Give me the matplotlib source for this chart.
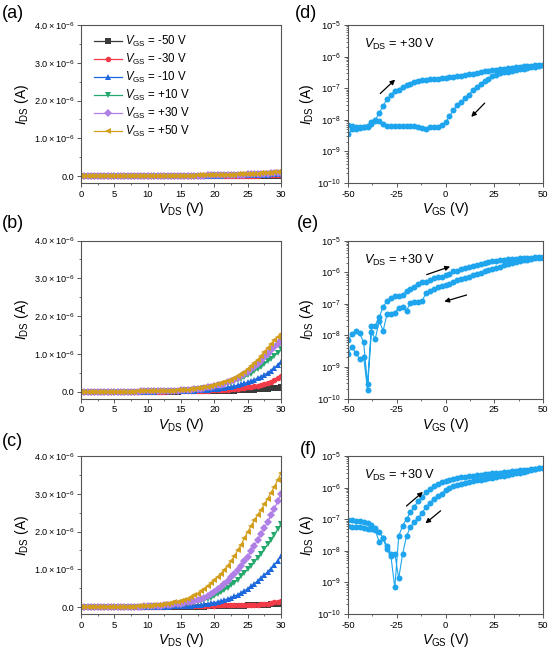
import numpy as np
import matplotlib
matplotlib.use("Agg")
import matplotlib.pyplot as plt
from matplotlib.ticker import FuncFormatter, MultipleLocator, LogLocator, NullFormatter

plt.rcParams['font.family'] = ['Liberation Sans', 'DejaVu Sans']
plt.rcParams['mathtext.fontset'] = 'custom'
plt.rcParams['mathtext.rm'] = 'Liberation Sans'
plt.rcParams['mathtext.it'] = 'Liberation Sans:italic'
plt.rcParams['axes.unicode_minus'] = False

# ---- output curves, I_DS in uA, V_DS swept 0..30 V in 0.5 V steps ----
vds = np.arange(0, 30.5, 0.5)
vgs_labels = ['-50 V', '-30 V', '-10 V', '+10 V', '+30 V', '+50 V']

# (a)
a_m50 = [0, 0, 0, 0, 0, 0, 0, 0, 0, 0, 0, 0, 0, 0, 0.001, 0.001, 0.001, 0.001, 0.001, 0.001, 0.001,
         0.001, 0.001, 0.002, 0.002, 0.002, 0.002, 0.002, 0.002, 0.003, 0.003, 0.003, 0.003, 0.003, 0.004, 0.004,
         0.004, 0.004, 0.005, 0.005, 0.005, 0.005, 0.006, 0.006, 0.006, 0.007, 0.007, 0.007, 0.008, 0.008, 0.008,
         0.009, 0.009, 0.009, 0.01, 0.01, 0.01, 0.011, 0.011, 0.012, 0.012]
a_m30 = [0, 0, 0, 0, 0, 0, 0, 0, 0.001, 0.001, 0.001, 0.001, 0.001, 0.001, 0.002, 0.002, 0.002, 0.002, 0.002, 0.003, 0.003,
         0.003, 0.003, 0.004, 0.004, 0.004, 0.004, 0.005, 0.005, 0.005, 0.006, 0.006, 0.006, 0.007, 0.007, 0.008,
         0.008, 0.008, 0.009, 0.009, 0.01, 0.01, 0.011, 0.011, 0.012, 0.012, 0.013, 0.014, 0.014, 0.015, 0.016,
         0.016, 0.017, 0.018, 0.019, 0.02, 0.021, 0.022, 0.023, 0.024, 0.025]
a_m10 = [0, 0, 0, 0, 0, 0.001, 0.001, 0.001, 0.001, 0.001, 0.002, 0.002, 0.002, 0.002, 0.003, 0.003, 0.003, 0.003, 0.004, 0.004, 0.004,
         0.005, 0.005, 0.005, 0.006, 0.006, 0.007, 0.007, 0.008, 0.008, 0.009, 0.009, 0.01, 0.011, 0.011, 0.012,
         0.013, 0.014, 0.014, 0.015, 0.016, 0.017, 0.018, 0.019, 0.02, 0.021, 0.023, 0.024, 0.026, 0.027, 0.029,
         0.031, 0.033, 0.035, 0.037, 0.04, 0.043, 0.046, 0.05, 0.055, 0.06]
a_p10 = [0, 0, 0, 0, 0, 0.001, 0.001, 0.001, 0.001, 0.002, 0.002, 0.002, 0.002, 0.003, 0.003, 0.003, 0.004, 0.004, 0.004, 0.005, 0.005,
         0.005, 0.006, 0.006, 0.007, 0.007, 0.008, 0.008, 0.009, 0.009, 0.01, 0.011, 0.011, 0.012, 0.013, 0.014,
         0.015, 0.016, 0.017, 0.018, 0.019, 0.02, 0.021, 0.023, 0.024, 0.026, 0.028, 0.03, 0.032, 0.034, 0.036,
         0.039, 0.042, 0.045, 0.048, 0.052, 0.056, 0.06, 0.064, 0.069, 0.075]
a_p30 = [0, 0, 0, 0, 0.001, 0.001, 0.001, 0.001, 0.002, 0.002, 0.002, 0.002, 0.003, 0.003, 0.003, 0.004, 0.004, 0.004, 0.005, 0.005, 0.005,
         0.006, 0.006, 0.007, 0.007, 0.008, 0.008, 0.009, 0.01, 0.01, 0.011, 0.012, 0.013, 0.014, 0.015, 0.016,
         0.017, 0.018, 0.019, 0.021, 0.022, 0.024, 0.026, 0.028, 0.03, 0.032, 0.034, 0.037, 0.039, 0.042, 0.045,
         0.048, 0.052, 0.056, 0.06, 0.064, 0.069, 0.074, 0.08, 0.087, 0.095]
a_p50 = [0, 0, 0, 0, 0.001, 0.001, 0.001, 0.001, 0.002, 0.002, 0.002, 0.002, 0.003, 0.003, 0.003, 0.004, 0.004, 0.004, 0.005, 0.005, 0.006,
         0.006, 0.007, 0.007, 0.008, 0.009, 0.009, 0.01, 0.011, 0.012, 0.013, 0.014, 0.015, 0.016, 0.018, 0.019,
         0.021, 0.022, 0.024, 0.026, 0.028, 0.03, 0.032, 0.035, 0.037, 0.04, 0.043, 0.046, 0.049, 0.053, 0.057,
         0.061, 0.065, 0.07, 0.075, 0.08, 0.086, 0.092, 0.099, 0.106, 0.114]

# (b)
b_m50 = [0, 0, 0, 0, 0, 0, 0, 0, 0, 0, 0, 0.001, 0.001, 0.001, 0.001, 0.001, 0.001, 0.001, 0.002, 0.002, 0.002,
         0.002, 0.002, 0.003, 0.003, 0.003, 0.004, 0.004, 0.005, 0.005, 0.006, 0.007, 0.007, 0.008, 0.009, 0.01,
         0.011, 0.012, 0.014, 0.015, 0.017, 0.019, 0.021, 0.023, 0.025, 0.028, 0.031, 0.034, 0.037, 0.041, 0.045,
         0.049, 0.054, 0.059, 0.064, 0.07, 0.077, 0.085, 0.096, 0.11, 0.125]
b_m30 = [0, 0, 0, 0, 0, 0, 0, 0, 0, 0.001, 0.001, 0.001, 0.001, 0.001, 0.001, 0.002, 0.002, 0.002, 0.002, 0.003, 0.003,
         0.003, 0.004, 0.004, 0.005, 0.005, 0.006, 0.007, 0.008, 0.009, 0.01, 0.012, 0.013, 0.015, 0.017, 0.019,
         0.022, 0.025, 0.028, 0.032, 0.036, 0.041, 0.046, 0.052, 0.058, 0.065, 0.073, 0.082, 0.092, 0.103, 0.115,
         0.128, 0.143, 0.159, 0.177, 0.2, 0.23, 0.26, 0.3, 0.35, 0.41]
b_m10 = [0, 0, 0, 0, 0, 0, 0, 0, 0.001, 0.001, 0.001, 0.001, 0.001, 0.002, 0.002, 0.002, 0.003, 0.003, 0.003, 0.004, 0.004,
         0.005, 0.005, 0.006, 0.007, 0.008, 0.009, 0.011, 0.012, 0.014, 0.016, 0.019, 0.022, 0.025, 0.029, 0.034,
         0.039, 0.045, 0.052, 0.06, 0.069, 0.079, 0.09, 0.103, 0.117, 0.133, 0.15, 0.17, 0.192, 0.22, 0.25,
         0.285, 0.32, 0.36, 0.4, 0.45, 0.5, 0.56, 0.63, 0.71, 0.79]
b_p10 = [0, 0, 0, 0, 0, 0, 0, 0.001, 0.001, 0.001, 0.001, 0.002, 0.002, 0.002, 0.003, 0.003, 0.004, 0.004, 0.005, 0.005, 0.006,
         0.007, 0.008, 0.01, 0.011, 0.013, 0.015, 0.018, 0.021, 0.025, 0.029, 0.034, 0.04, 0.047, 0.055, 0.064,
         0.074, 0.085, 0.098, 0.112, 0.128, 0.146, 0.166, 0.188, 0.212, 0.24, 0.27, 0.3, 0.34, 0.38, 0.43,
         0.48, 0.54, 0.6, 0.66, 0.73, 0.8, 0.87, 0.95, 1.03, 1.12]
b_p30 = [0, 0, 0, 0, 0, 0, 0.001, 0.001, 0.001, 0.001, 0.002, 0.002, 0.002, 0.003, 0.003, 0.004, 0.004, 0.005, 0.006, 0.006, 0.007,
         0.008, 0.01, 0.011, 0.013, 0.015, 0.018, 0.021, 0.025, 0.029, 0.034, 0.04, 0.046, 0.054, 0.063, 0.073,
         0.084, 0.097, 0.112, 0.128, 0.146, 0.166, 0.19, 0.215, 0.245, 0.28, 0.32, 0.36, 0.41, 0.46, 0.52,
         0.59, 0.66, 0.74, 0.82, 0.91, 1.0, 1.09, 1.18, 1.27, 1.36]
b_p50 = [0, 0, 0, 0, 0, 0.001, 0.001, 0.001, 0.001, 0.002, 0.002, 0.002, 0.003, 0.003, 0.004, 0.004, 0.005, 0.006, 0.007, 0.008, 0.009,
         0.01, 0.012, 0.014, 0.016, 0.019, 0.022, 0.026, 0.03, 0.035, 0.041, 0.048, 0.056, 0.065, 0.075, 0.087,
         0.1, 0.115, 0.132, 0.15, 0.17, 0.195, 0.22, 0.25, 0.28, 0.32, 0.36, 0.42, 0.47, 0.53, 0.6,
         0.68, 0.76, 0.85, 0.95, 1.05, 1.16, 1.26, 1.36, 1.45, 1.53]

# (c)
c_m50 = [0, 0, 0, 0, 0, 0, 0, 0, 0.001, 0.001, 0.001, 0.001, 0.001, 0.002, 0.002, 0.002, 0.002, 0.003, 0.003, 0.003, 0.004,
         0.004, 0.005, 0.005, 0.006, 0.006, 0.007, 0.008, 0.008, 0.009, 0.01, 0.011, 0.012, 0.013, 0.014, 0.015,
         0.016, 0.018, 0.019, 0.021, 0.022, 0.024, 0.026, 0.028, 0.03, 0.032, 0.034, 0.036, 0.039, 0.042, 0.045,
         0.048, 0.051, 0.055, 0.059, 0.063, 0.068, 0.073, 0.078, 0.084, 0.09]
c_m30 = [0, 0, 0, 0, 0, 0.001, 0.001, 0.001, 0.001, 0.001, 0.002, 0.002, 0.002, 0.003, 0.003, 0.004, 0.004, 0.005, 0.006, 0.007, 0.008,
         0.01, 0.012, 0.014, 0.016, 0.018, 0.02, 0.022, 0.025, 0.027, 0.03, 0.028, 0.032, 0.035, 0.033, 0.036,
         0.04, 0.038, 0.042, 0.045, 0.043, 0.047, 0.05, 0.048, 0.052, 0.055, 0.053, 0.057, 0.06, 0.058, 0.062,
         0.066, 0.064, 0.07, 0.076, 0.084, 0.095, 0.108, 0.125, 0.145, 0.17]
c_m10 = [0, 0, 0, 0, 0.001, 0.001, 0.001, 0.001, 0.001, 0.002, 0.002, 0.002, 0.002, 0.003, 0.003, 0.004, 0.004, 0.005, 0.006, 0.007, 0.008,
         0.009, 0.01, 0.012, 0.013, 0.015, 0.017, 0.019, 0.022, 0.025, 0.029, 0.033, 0.038, 0.044, 0.051, 0.059,
         0.068, 0.079, 0.092, 0.107, 0.124, 0.143, 0.165, 0.19, 0.22, 0.25, 0.29, 0.33, 0.38, 0.43, 0.49,
         0.55, 0.62, 0.69, 0.77, 0.85, 0.93, 1.02, 1.12, 1.23, 1.35]
c_p10 = [0, 0, 0, 0.001, 0.001, 0.001, 0.001, 0.002, 0.002, 0.002, 0.003, 0.003, 0.004, 0.005, 0.006, 0.007, 0.008, 0.01, 0.012, 0.014, 0.016,
         0.019, 0.022, 0.026, 0.03, 0.034, 0.039, 0.045, 0.052, 0.06, 0.069, 0.08, 0.092, 0.106, 0.122, 0.14,
         0.16, 0.185, 0.215, 0.25, 0.29, 0.34, 0.39, 0.45, 0.51, 0.58, 0.65, 0.73, 0.82, 0.91, 1.0,
         1.1, 1.2, 1.31, 1.42, 1.54, 1.66, 1.79, 1.92, 2.06, 2.2]
c_p30 = [0, 0, 0.001, 0.001, 0.001, 0.002, 0.002, 0.002, 0.003, 0.003, 0.004, 0.005, 0.006, 0.007, 0.008, 0.01, 0.012, 0.014, 0.017, 0.02, 0.023,
         0.027, 0.031, 0.036, 0.042, 0.048, 0.055, 0.063, 0.072, 0.083, 0.095, 0.11, 0.125, 0.143, 0.165, 0.19,
         0.22, 0.255, 0.3, 0.35, 0.41, 0.47, 0.54, 0.62, 0.7, 0.79, 0.88, 0.98, 1.09, 1.21, 1.34,
         1.48, 1.63, 1.78, 1.94, 2.1, 2.26, 2.43, 2.6, 2.8, 3.0]
c_p50 = [0, 0, 0.001, 0.001, 0.002, 0.002, 0.003, 0.003, 0.004, 0.005, 0.006, 0.007, 0.008, 0.01, 0.012, 0.015, 0.018, 0.021, 0.025, 0.03, 0.036,
         0.042, 0.05, 0.058, 0.068, 0.08, 0.095, 0.11, 0.13, 0.15, 0.17, 0.2, 0.23, 0.27, 0.31, 0.36,
         0.42, 0.48, 0.55, 0.63, 0.71, 0.8, 0.89, 0.99, 1.1, 1.22, 1.35, 1.5, 1.65, 1.82, 1.99,
         2.15, 2.3, 2.44, 2.58, 2.72, 2.87, 3.03, 3.19, 3.36, 3.55]

# ---- transfer curves, I_DS in A at V_DS = +30 V, V_GS swept -50..50 V in 2 V steps ----
vgs = np.arange(-50, 52, 2)

d_fwd = [3.5e-9, 5e-9, 6e-9, 5.5e-9, 6e-9, 6e-9, 8.5e-9, 1e-8, 1.6e-8, 2.8e-8, 4.4e-8, 6.2e-8, 8.1e-8,
         9e-8, 1.1e-7, 1.25e-7, 1.4e-7, 1.6e-7, 1.7e-7, 1.8e-7, 1.85e-7, 1.9e-7, 1.95e-7, 2.0e-7, 2.05e-7, 2.1e-7,
         2.2e-7, 2.3e-7, 2.4e-7, 2.5e-7, 2.6e-7, 2.75e-7, 2.9e-7, 3.05e-7, 3.2e-7, 3.4e-7, 3.55e-7, 3.7e-7, 3.85e-7,
         4.0e-7, 4.2e-7, 4.35e-7, 4.5e-7, 4.65e-7, 4.8e-7, 4.95e-7, 5.1e-7, 5.2e-7, 5.3e-7, 5.4e-7, 5.5e-7]
d_bwd = [7e-9, 6.5e-9, 5e-9, 6e-9, 6e-9, 6.5e-9, 7.5e-9, 9e-9, 9.5e-9, 7.5e-9, 6.5e-9, 6.3e-9, 6.2e-9,
         6.2e-9, 6.5e-9, 6.5e-9, 6.2e-9, 6.2e-9, 5.8e-9, 5.5e-9, 5.1e-9, 6e-9, 6e-9, 6e-9, 7e-9, 8.3e-9,
         1.3e-8, 2e-8, 2.9e-8, 3.7e-8, 4.8e-8, 6.3e-8, 8.5e-8, 1.1e-7, 1.4e-7, 1.7e-7, 2e-7, 2.4e-7, 2.7e-7,
         2.95e-7, 3.15e-7, 3.35e-7, 3.55e-7, 3.75e-7, 4.0e-7, 4.2e-7, 4.4e-7, 4.6e-7, 4.8e-7, 5.1e-7, 5.5e-7]

e_fwd = [7.2e-9, 1.07e-8, 1.4e-8, 1.17e-8, 6e-9, 2.9e-10, 2e-8, 2e-8, 3.7e-8, 8e-8, 1.2e-7, 1.5e-7, 1.7e-7,
         1.8e-7, 1.85e-7, 2.6e-7, 3e-7, 3.5e-7, 4.3e-7, 4.8e-7, 5e-7, 5.8e-7, 6.5e-7, 6.8e-7, 7.2e-7, 8e-7,
         9e-7, 1.05e-6, 1.12e-6, 1.22e-6, 1.35e-6, 1.48e-6, 1.6e-6, 1.72e-6, 1.85e-6, 2e-6, 2.1e-6, 2.2e-6, 2.28e-6,
         2.35e-6, 2.45e-6, 2.52e-6, 2.58e-6, 2.63e-6, 2.7e-6, 2.75e-6, 2.8e-6, 2.85e-6, 2.9e-6, 2.95e-6, 3e-6]
e_bwd = [2.6e-9, 4.4e-9, 2.7e-9, 1.8e-9, 2.1e-9, 1.9e-10, 1.26e-8, 7.8e-9, 2.8e-8, 1.4e-8, 4.6e-8, 4.8e-8, 5.2e-8,
         7.5e-8, 8e-8, 6e-8, 1.07e-7, 1.1e-7, 1.15e-7, 1.2e-7, 2.2e-7, 2.6e-7, 3e-7, 3.4e-7, 3.6e-7, 3.8e-7,
         4.3e-7, 5e-7, 5.5e-7, 6.2e-7, 6.6e-7, 7.2e-7, 7.9e-7, 8.8e-7, 9.7e-7, 1.08e-6, 1.17e-6, 1.25e-6, 1.38e-6,
         1.5e-6, 1.62e-6, 1.82e-6, 2.0e-6, 2.15e-6, 2.28e-6, 2.38e-6, 2.48e-6, 2.6e-6, 2.7e-6, 2.78e-6, 2.85e-6]

f_fwd = [9.5e-8, 9.3e-8, 9e-8, 8.7e-8, 8.2e-8, 7.5e-8, 6.5e-8, 5.2e-8, 4e-8, 2.5e-8, 1.1e-8, 6.8e-9, 6.9e-10,
         2.9e-8, 6.3e-8, 1e-7, 1.65e-7, 2.5e-7, 3.7e-7, 5.2e-7, 7e-7, 9e-7, 1.1e-6, 1.3e-6, 1.5e-6, 1.65e-6,
         1.78e-6, 1.9e-6, 2.0e-6, 2.1e-6, 2.2e-6, 2.3e-6, 2.4e-6, 2.5e-6, 2.58e-6, 2.65e-6, 2.72e-6, 2.8e-6, 2.9e-6,
         3.0e-6, 3.1e-6, 3.2e-6, 3.3e-6, 3.4e-6, 3.5e-6, 3.6e-6, 3.72e-6, 3.85e-6, 3.98e-6, 4.1e-6, 4.3e-6]
f_bwd = [6e-8, 5.8e-8, 5.5e-8, 5.5e-8, 5.2e-8, 5e-8, 5e-8, 4.5e-8, 1.9e-8, 2.5e-8, 1.4e-8, 8e-9, 8.1e-9,
         1.35e-9, 7.9e-9, 2.9e-8, 5.6e-8, 8e-8, 1.1e-7, 1.6e-7, 2.4e-7, 3.2e-7, 4.4e-7, 5.5e-7, 6.5e-7, 8.5e-7,
         1.0e-6, 1.1e-6, 1.2e-6, 1.3e-6, 1.4e-6, 1.5e-6, 1.6e-6, 1.7e-6, 1.8e-6, 1.9e-6, 1.98e-6, 2.05e-6, 2.15e-6,
         2.25e-6, 2.38e-6, 2.52e-6, 2.65e-6, 2.8e-6, 2.95e-6, 3.1e-6, 3.3e-6, 3.55e-6, 3.8e-6, 4.05e-6, 4.3e-6]

out_colors = ['#3a3a3a', '#f23a48', '#1c68dc', '#24a86c', '#b07fe6', '#d29e1c']
out_markers = ['s', 'o', '^', 'v', 'D', '<']
blue = '#1ea5ee'

fig = plt.figure(figsize=(5.5, 6.53), dpi=100)

left_x, left_w = 81 / 550, 200 / 550
right_x, right_w = 348 / 550, 195 / 550
row_b = [1 - 183 / 653, 1 - 398.5 / 653, 1 - 614 / 653]
row_h = 158 / 653


def style_axes(ax, xlabel, ylabel, tick_x, tick_y, ypad):
    for sp in ax.spines.values():
        sp.set_color('#555555')
        sp.set_linewidth(0.8)
    ax.tick_params(which='major', direction='out', length=3, width=0.7, color='#555555', pad=2)
    ax.tick_params(which='minor', direction='out', length=1.6, width=0.6, color='#555555')
    ax.tick_params(axis='x', labelsize=tick_x)
    ax.tick_params(axis='y', labelsize=tick_y)
    ax.set_xlabel(xlabel, fontsize=10, labelpad=1)
    ax.set_ylabel(ylabel, fontsize=10, labelpad=ypad)


def lin_fmt(v, pos):
    if abs(v) < 1e-12:
        return '0.0'
    return r'$\mathdefault{%.1f\times10^{-6}}$' % (v * 1e6)


out_sets = [[a_m50, a_m30, a_m10, a_p10, a_p30, a_p50],
            [b_m50, b_m30, b_m10, b_p10, b_p30, b_p50],
            [c_m50, c_m30, c_m10, c_p10, c_p30, c_p50]]

for r, series in enumerate(out_sets):
    ax = fig.add_axes([left_x, row_b[r], left_w, row_h])
    for k, ys in enumerate(series):
        ax.plot(vds, np.array(ys) * 1e-6, color=out_colors[k], marker=out_markers[k], ms=4.0,
                mew=0, lw=0.9, label=r'$\mathit{V}_{\mathrm{GS}}$ = ' + vgs_labels[k])
    ax.set_xlim(0, 30)
    ax.set_ylim(-0.18e-6, 4.0e-6)
    ax.xaxis.set_major_locator(MultipleLocator(5))
    ax.xaxis.set_minor_locator(MultipleLocator(2.5))
    ax.yaxis.set_major_locator(MultipleLocator(1e-6))
    ax.yaxis.set_minor_locator(MultipleLocator(0.5e-6))
    ax.yaxis.set_major_formatter(FuncFormatter(lin_fmt))
    style_axes(ax, r'$\mathit{V}_{\mathrm{DS}}$ (V)', r'$\mathit{I}_{\mathrm{DS}}$ (A)', 6.8, 6.6, 2)
    if r == 0:
        ax.legend(loc='upper left', frameon=False, fontsize=8.3, handlelength=2.4,
                  handletextpad=0.3, labelspacing=0.25, borderaxespad=0.4,
                  bbox_to_anchor=(0.02, 1.0))

tr_sets = [(d_fwd, d_bwd), (e_fwd, e_bwd), (f_fwd, f_bwd)]
# arrow (start, end) in data coords for each transfer panel
arrows = [[((-34.5, 5.9e-8), (-24.8, 2.15e-7)), ((21.1, 3.9e-8), (12.2, 1.07e-8))],
          [((-11.0, 7.8e-7), (3.7, 1.6e-6)), ((12.2, 2.0e-7), (-2.0, 1.1e-7))],
          [((-21.1, 2.3e-7), (-10.5, 8.3e-7)), ((-1.4, 2.1e-7), (-11.4, 6.5e-8))]]

for r, (fw, bw) in enumerate(tr_sets):
    ax = fig.add_axes([right_x, row_b[r], right_w, row_h])
    xs = np.concatenate([vgs, vgs[::-1]])
    ys = np.concatenate([fw, bw[::-1]])
    ax.plot(xs, ys, color=blue, marker='o', ms=4.3, mew=0, lw=0.8)
    ax.set_yscale('log')
    ax.set_xlim(-50, 50)
    ax.set_ylim(1e-10, 1e-5)
    ax.xaxis.set_major_locator(MultipleLocator(25))
    ax.xaxis.set_minor_locator(MultipleLocator(12.5))
    ax.yaxis.set_major_locator(LogLocator(base=10, numticks=10))
    ax.yaxis.set_minor_locator(LogLocator(base=10, subs=np.arange(2, 10), numticks=20))
    ax.yaxis.set_minor_formatter(NullFormatter())
    style_axes(ax, r'$\mathit{V}_{\mathrm{GS}}$ (V)', r'$\mathit{I}_{\mathrm{DS}}$ (A)', 6.8, 6.8, 1)
    for (x0, y0), (x1, y1) in arrows[r]:
        ax.annotate('', xy=(x1, y1), xytext=(x0, y0),
                    arrowprops=dict(arrowstyle='-|>', color='black', lw=0.9, mutation_scale=7))
    ax.text(0.08, 0.875, r'$\mathit{V}_{\mathrm{DS}}$ = +30 V', transform=ax.transAxes,
            fontsize=9.2, va='center', ha='left')

panel_labels = [('(a)', 2, 13.5), ('(b)', 2, 223), ('(c)', 2, 441),
                ('(d)', 295, 13.5), ('(e)', 297, 224), ('(f)', 300, 449)]
for txt, px, py in panel_labels:
    fig.text(px / 550, 1 - py / 653, txt, fontsize=13, ha='left', va='center')

fig.savefig('out.png', dpi=100)
